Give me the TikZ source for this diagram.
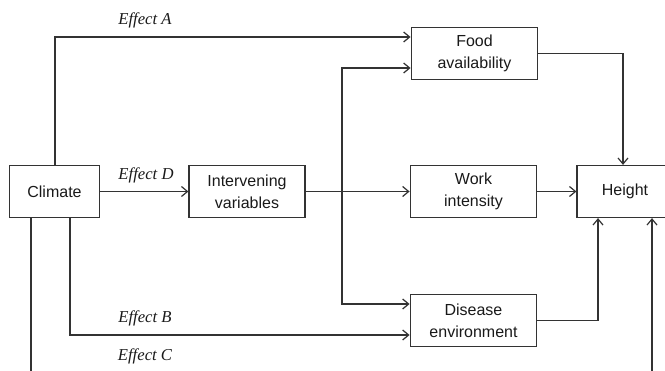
\documentclass[tikz,border=0pt]{standalone}
\usepackage{fontspec}
\setmainfont{Liberation Serif}
\setsansfont{Liberation Sans}
\usetikzlibrary{arrows.meta}

\tikzset{
  box/.style={draw=black!80, line width=0.9pt, minimum height=39pt, inner sep=0pt, align=center,
    font=\sffamily\fontsize{12}{16.5}\selectfont, text=black!90},
  link/.style={draw=black!80, line width=0.9pt, -{Straight Barb[length=4.5pt,width=7.5pt]}},
  effect/.style={font=\itshape\fontsize{12.5}{14}\selectfont, text=black!90}
}

\begin{document}
\begin{tikzpicture}[x=0.75pt,y=-0.75pt]
\clip (0,0) rectangle (665,371);

\node[box, minimum width=67pt] (climate) at (54.5,191.5) {Climate};
\node[box, minimum width=87pt] (inter) at (247,191.5) {Intervening\\variables};
\node[box, minimum width=95pt] (food) at (474.5,53.5) {Food\\availability};
\node[box, minimum width=95pt] (work) at (473.5,191.5) {Work\\intensity};
\node[box, minimum width=95pt] (disease) at (473.5,320.5) {Disease\\environment};
\node[box, minimum width=72pt] (height) at (625,191.5) {Height};

\coordinate (ka) at (55,37);
\coordinate (kb) at (70,335);
\coordinate (kc) at (31,371);
\coordinate (kd) at (342,68);
\coordinate (ke) at (342,304);
\coordinate (kf) at (623,53);
\coordinate (kg) at (598,321);
\coordinate (kh) at (652,371);

\node[effect] (ea) at (145,20) {Effect A};
\node[effect] (ed) at (146,175) {Effect D};
\node[effect] (eb) at (145,318.5) {Effect B};
\node[effect] (ec) at (145,356.5) {Effect C};

\path[link] (climate.north -| ka) |- (food.west |- ka);
\path[link] (climate.east) -- (inter.west);
\path[link] (inter.east) -- (work.west);
\path[link] (inter.east -| kd) |- (food.west |- kd);
\path[link] (inter.east -| ke) |- (disease.west |- ke);
\path[link] (climate.south -| kb) |- (disease.west |- kb);
\path[link,-] (climate.south -| kc) -- (kc);
\path[link] (food.east) -| (height.north -| kf);
\path[link] (work.east) -- (height.west);
\path[link] (disease.east) -| (height.south -| kg);
\path[link] (kh) -- (height.south -| kh);
\end{tikzpicture}
\end{document}
